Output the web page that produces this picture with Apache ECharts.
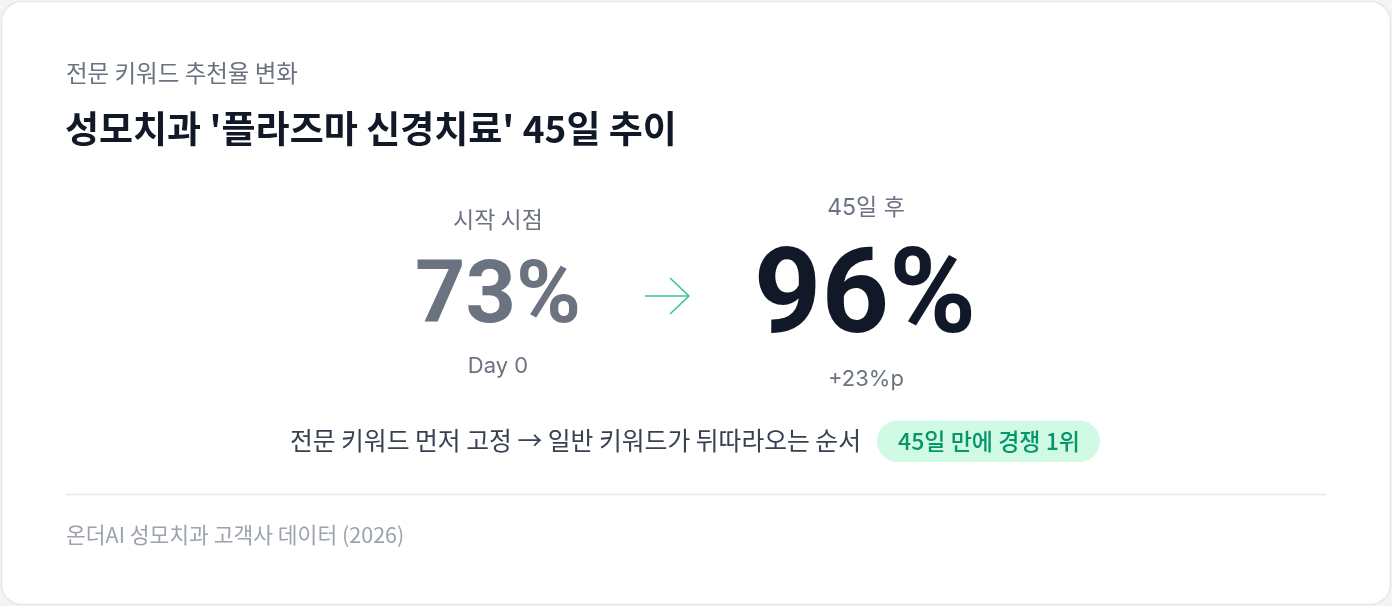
<!DOCTYPE html>
<html>
<head>
<meta charset="utf-8">
<script src="https://cdn.jsdelivr.net/npm/echarts@6/dist/echarts.min.js"></script>
<style>
  html, body { margin: 0; padding: 0; background: #f3f4f6; }
  #main { width: 1392px; height: 606px; }
</style>
</head>
<body>
<div id="main"></div>
<script>
// 데이터
var kicker = '전문 키워드 추천율 변화';
var headline = "성모치과 '플라즈마 신경치료' 45일 추이";
var periodLabels = ['시작 시점', '45일 후'];
var rateValues = [73, 96];
var subLabels = ['Day 0', '+23%p'];
var noteText = '전문 키워드 먼저 고정 → 일반 키워드가 뒤따라오는 순서';
var badgeText = '45일 만에 경쟁 1위';
var sourceText = '온더AI 성모치과 고객사 데이터 (2026)';

var FONT = "Inter, 'Noto Sans CJK KR', sans-serif";
var KR = "'Noto Sans CJK KR', Inter, sans-serif";
var NUM = "Roboto, Inter, sans-serif";

function txt(x, y, text, size, color, weight, align, family) {
    return {
        type: 'text',
        x: x, y: y,
        style: {
            text: text,
            fontSize: size,
            fontWeight: weight || 'normal',
            fill: color,
            fontFamily: family || FONT,
            align: align || 'left',
            verticalAlign: 'middle'
        }
    };
}

var chart = echarts.init(document.getElementById('main'));
chart.setOption({
    animation: false,
    graphic: [
        // 카드
        {
            type: 'rect',
            shape: { x: 1.5, y: 1.5, width: 1389, height: 603, r: 20 },
            style: { fill: '#ffffff', stroke: '#e5e7eb', lineWidth: 1.5 }
        },
        txt(66, 73, kicker, 23.5, '#6b7280', 'normal', 'left', KR),
        txt(65, 129, headline, 37, '#111827', 'bold', 'left', KR),

        txt(498, 219, periodLabels[0], 23, '#6b7280', 'normal', 'center', KR),
        txt(498, 300, rateValues[0] + '%', 88, '#6b7280', 'bold', 'center', NUM),
        txt(498, 366, subLabels[0], 22, '#6b7280', 'normal', 'center'),

        txt(866, 208, periodLabels[1], 23, '#6b7280', 'normal', 'center', FONT),
        txt(865, 302, rateValues[1] + '%', 118, '#111827', 'bold', 'center', NUM),
        txt(866, 379, subLabels[1], 22, '#6b7280', 'normal', 'center'),

        // 화살표
        {
            type: 'polyline',
            shape: { points: [[645, 296], [689, 296]] },
            style: { stroke: '#34c38f', lineWidth: 1.5 }
        },
        {
            type: 'polyline',
            shape: { points: [[670, 278], [689, 296], [670, 314]] },
            style: { stroke: '#34c38f', lineWidth: 1.5, fill: null }
        },

        txt(861, 441, noteText, 24.8, '#374151', 'normal', 'right', KR),
        {
            type: 'rect',
            shape: { x: 877, y: 420.5, width: 223, height: 41.5, r: 20.75 },
            style: { fill: '#d1fae5' }
        },
        txt(989, 441, badgeText, 23, '#059669', 500, 'center', KR),

        {
            type: 'line',
            shape: { x1: 66, y1: 494.5, x2: 1326, y2: 494.5 },
            style: { stroke: '#e5e7eb', lineWidth: 1.5 }
        },
        txt(66, 535, sourceText, 21.5, '#9ca3af', 'normal', 'left', KR)
    ]
});
</script>
</body>
</html>
